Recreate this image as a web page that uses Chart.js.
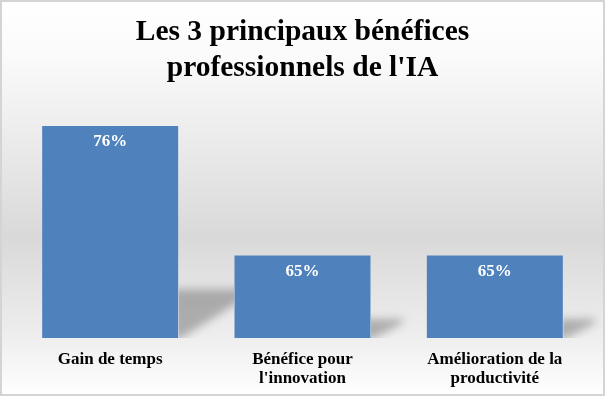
<!DOCTYPE html>
<html>
<head>
<meta charset="utf-8">
<script src="https://cdn.jsdelivr.net/npm/chart.js@4"></script>
<style>
html,body{margin:0;padding:0;background:#fff;}
#wrap{width:605px;height:396px;position:relative;}
</style>
</head>
<body>
<div id="wrap"><canvas id="c" width="605" height="396"></canvas></div>
<script>
const titleLines = ["Les 3 principaux bénéfices", "professionnels de l'IA"];
const categories = [["Gain de temps"], ["Bénéfice pour", "l'innovation"], ["Amélioration de la", "productivité"]];
const values = [76, 65, 65];
const axisMin = 58;
const axisMax = 76;

const FONT = "'Liberation Serif', 'DejaVu Serif', serif";
const BAR_PCT = 0.707;

const bgPlugin = {
  id: 'bg',
  beforeDraw(chart) {
    const ctx = chart.ctx, w = chart.width, h = chart.height;
    ctx.save();
    const g = ctx.createLinearGradient(0, 0, 0, h);
    g.addColorStop(0, '#ffffff');
    g.addColorStop(0.15, '#fafafa');
    g.addColorStop(0.6, '#d9d9d9');
    g.addColorStop(0.85, '#eeeeee');
    g.addColorStop(1, '#ffffff');
    ctx.fillStyle = g;
    ctx.fillRect(0, 0, w, h);
    ctx.strokeStyle = '#d4d4d4';
    ctx.lineWidth = 2;
    ctx.strokeRect(1, 1, w - 2, h - 2);
    ctx.restore();
  }
};

const shadowPlugin = {
  id: 'barShadow',
  afterDatasetsDraw(chart) {
    const ctx = chart.ctx;
    const xs = chart.scales.x, ys = chart.scales.y;
    const catW = xs.width / values.length;
    const halfBar = catW * BAR_PCT / 2;
    const bottom = ys.getPixelForValue(axisMin);
    values.forEach((v, i) => {
      const cx = xs.getPixelForValue(i);
      const right = cx + halfBar;
      const nextLeft = i < values.length - 1 ? xs.getPixelForValue(i + 1) - halfBar : chart.width - 3;
      const top = ys.getPixelForValue(v);
      const hgt = bottom - top;
      const sh = hgt * 0.23;
      const sw = 12 + hgt * 0.25;
      ctx.save();
      ctx.beginPath();
      ctx.rect(right + 0.5, top, nextLeft - right - 1, bottom - top);
      ctx.clip();
      ctx.filter = 'blur(4.5px)';
      ctx.fillStyle = 'rgba(80,80,80,0.4)';
      ctx.beginPath();
      ctx.moveTo(right - 6, bottom - sh);
      ctx.lineTo(right + sw, bottom - sh);
      ctx.lineTo(right + sw, bottom - sh * 0.8);
      ctx.lineTo(right + 2, bottom + 1);
      ctx.lineTo(right - 6, bottom + 1);
      ctx.closePath();
      ctx.fill();
      ctx.restore();
    });
  }
};

const labelPlugin = {
  id: 'valLabels',
  afterDatasetsDraw(chart) {
    const ctx = chart.ctx;
    const meta = chart.getDatasetMeta(0);
    ctx.save();
    ctx.fillStyle = '#ffffff';
    ctx.font = "bold 17px " + FONT;
    ctx.textAlign = 'center';
    ctx.textBaseline = 'middle';
    meta.data.forEach((bar, i) => {
      ctx.fillText(values[i] + '%', bar.x, bar.y + 16);
    });
    ctx.restore();
  }
};

new Chart(document.getElementById('c'), {
  type: 'bar',
  data: {
    labels: categories,
    datasets: [{
      data: values,
      backgroundColor: '#4f81bd',
      borderWidth: 0,
      barPercentage: BAR_PCT,
      categoryPercentage: 1.0
    }]
  },
  options: {
    responsive: false,
    animation: false,
    layout: { padding: { left: 14, right: 14, top: 0, bottom: 8 } },
    plugins: {
      legend: { display: false },
      tooltip: { enabled: false },
      title: {
        display: true,
        text: titleLines,
        color: '#000000',
        font: { family: FONT, size: 29.5, weight: 'bold', lineHeight: 1.22 },
        padding: { top: 14, bottom: 40 }
      }
    },
    scales: {
      x: {
        grid: { display: false, drawTicks: false },
        border: { display: false },
        ticks: {
          color: '#000000',
          font: { family: FONT, size: 17, weight: 'bold', lineHeight: 1.12 },
          padding: 12,
          maxRotation: 0
        },
        afterFit(scale) { scale.height = 50; }
      },
      y: {
        display: false,
        min: axisMin,
        max: axisMax
      }
    }
  },
  plugins: [bgPlugin, shadowPlugin, labelPlugin]
});
</script>
</body>
</html>
